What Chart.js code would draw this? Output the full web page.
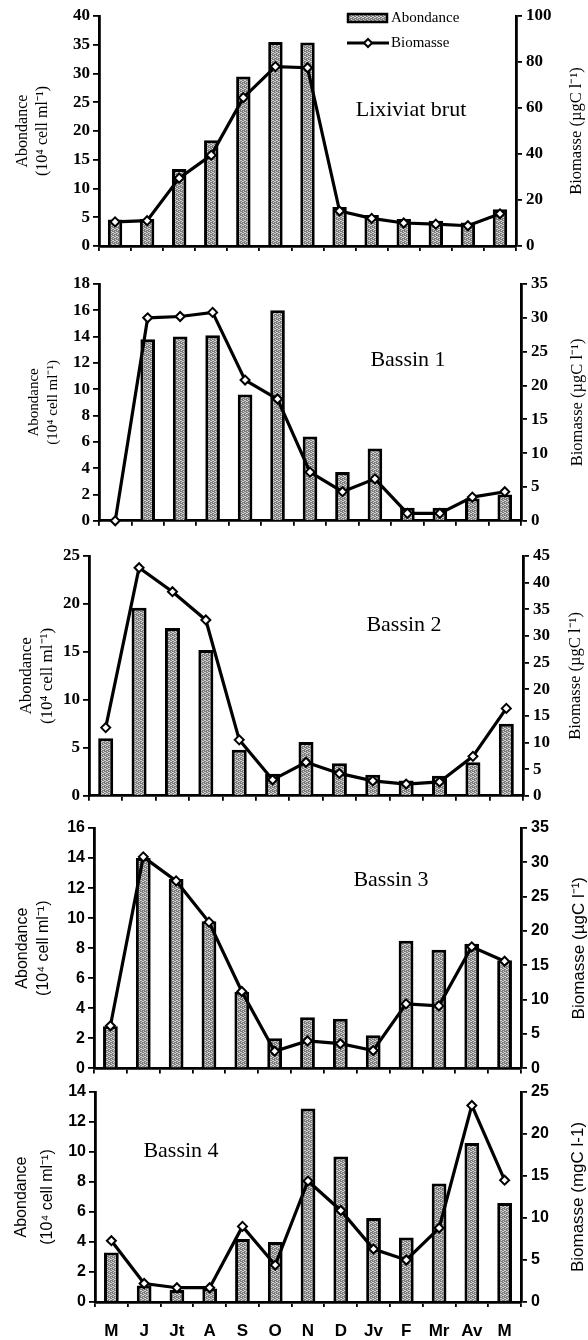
<!DOCTYPE html>
<html>
<head>
<meta charset="utf-8">
<script src="https://cdn.jsdelivr.net/npm/chart.js@4.4.1/dist/chart.umd.min.js"></script>
<style>
  body { margin: 0; background: #fff; width: 588px; height: 1340px; position: relative; overflow: hidden; }
  canvas { position: absolute; left: 0; }
</style>
</head>
<body>
<canvas id="c1"></canvas>
<canvas id="c2"></canvas>
<canvas id="c3"></canvas>
<canvas id="c4"></canvas>
<canvas id="c5"></canvas>
<script>
const months = ['M', 'J', 'Jt', 'A', 'S', 'O', 'N', 'D', 'Jv', 'F', 'Mr', 'Av', 'M'];

// abondance (10^4 cell/ml) and biomasse for each site
const abLixiviat = [4.6, 4.7, 13.4, 18.4, 29.5, 35.5, 35.4, 6.8, 5.4, 4.7, 4.4, 4.1, 6.4];
const bioLixiviat = [10.5, 11, 29.5, 39.5, 64.5, 78, 77.5, 15.2, 12, 10, 9.5, 8.8, 14];
const abBassin1 = [0, 13.8, 14.0, 14.1, 9.6, 16.0, 6.4, 3.7, 5.5, 1.0, 1.0, 1.7, 2.0];
const bioBassin1 = [0, 30, 30.2, 30.8, 20.8, 18, 7.2, 4.3, 6.2, 1.1, 1.1, 3.5, 4.3];
const abBassin2 = [6.0, 19.6, 17.5, 15.2, 4.8, 2.3, 5.6, 3.4, 2.2, 1.6, 2.1, 3.5, 7.5];
const bioBassin2 = [12.8, 42.8, 38.3, 33, 10.5, 3, 6.3, 4.2, 2.8, 2.2, 2.6, 7.4, 16.4];
const abBassin3 = [2.8, 14.0, 12.6, 9.8, 5.1, 2.0, 3.4, 3.3, 2.2, 8.5, 7.9, 8.3, 7.2];
const bioBassin3 = [6.2, 30.8, 27.3, 21.3, 11.2, 2.5, 4.0, 3.6, 2.6, 9.4, 9.1, 17.7, 15.6];
const abBassin4 = [3.3, 1.1, 0.8, 0.9, 4.2, 4.0, 12.9, 9.7, 5.6, 4.3, 7.9, 10.6, 6.6];
const bioBassin4 = [7.3, 2.2, 1.7, 1.7, 9.0, 4.4, 14.4, 10.9, 6.3, 5.0, 8.8, 23.4, 14.5];

const panelNames = ['Lixiviat brut', 'Bassin 1', 'Bassin 2', 'Bassin 3', 'Bassin 4'];
const abMax = [40, 18, 25, 16, 14];
const abStep = [5, 2, 5, 2, 2];
const bioMax = [100, 35, 45, 35, 25];
const bioStep = [20, 5, 5, 5, 5];
const bioTitles = ['Biomasse (µgC l⁻¹)', 'Biomasse (µgC l⁻¹)', 'Biomasse (µgC l⁻¹)', 'Biomasse (µgC l⁻¹)', 'Biomasse (mgC l-1)'];

const abData = [abLixiviat, abBassin1, abBassin2, abBassin3, abBassin4];
const bioData = [bioLixiviat, bioBassin1, bioBassin2, bioBassin3, bioBassin4];

const SERIF = '"Liberation Serif", "Times New Roman", serif';
const SANS = '"Liberation Sans", Arial, sans-serif';

// where each panel sits on the page
const layout = [
  {top: 0,    h: 262, pad: 16, xh: 16, left: 99, right: 516, sans: false, tx: 411, ty: 110, rx: 577, tp: 12, lh: 1.3, ts: 16},
  {top: 268,  h: 267, pad: 16, xh: 12, left: 99, right: 521, sans: false, tx: 408, ty: 92,  rx: 578, tp: 24, lh: 1.3, ts: 15},
  {top: 540,  h: 270, pad: 16, xh: 12, left: 89, right: 523, sans: false, tx: 404, ty: 85,  rx: 576, tp: 16, lh: 1.25, ts: 17},
  {top: 812,  h: 270, pad: 16, xh: 10, left: 94, right: 521, sans: true,  tx: 391, ty: 68,  rx: 579, tp: 12, lh: 1.3, ts: 16},
  {top: 1078, h: 262, pad: 14, xh: 38, left: 95, right: 521, sans: true,  tx: 181, ty: 73,  rx: 578, tp: 9,  lh: 1.6, ts: 16}
];
const CW = 588;

function stipple() {
  const c = document.createElement('canvas');
  c.width = 4; c.height = 4;
  const g = c.getContext('2d');
  g.fillStyle = '#7d7d7d';
  g.fillRect(0, 0, 4, 4);
  g.fillStyle = '#d4d4d4';
  [[0, 0], [2, 1], [1, 2], [3, 3], [3, 1], [1, 0]].forEach(p => g.fillRect(p[0], p[1], 1, 1));
  return g.createPattern(c, 'repeat');
}
const barFill = stipple();

const panelText = {
  id: 'panelText',
  afterDraw(chart, args, o) {
    const {ctx, chartArea} = chart;
    ctx.save();
    ctx.fillStyle = '#000';
    ctx.textAlign = 'center';
    ctx.textBaseline = 'middle';
    ctx.font = '22px ' + SERIF;
    ctx.fillText(o.name, o.tx, o.ty);
    // right axis title, reading upwards
    ctx.font = o.titleFont;
    ctx.translate(o.rx, (chartArea.top + chartArea.bottom) / 2);
    ctx.rotate(-Math.PI / 2);
    ctx.fillText(o.rightTitle, 0, 0);
    ctx.restore();
  }
};

const boxLegend = {
  id: 'boxLegend',
  afterDraw(chart, args, o) {
    if (!o.show) return;
    const ctx = chart.ctx;
    const bar = chart.data.datasets[1], line = chart.data.datasets[0];
    ctx.save();
    ctx.fillStyle = bar.backgroundColor;
    ctx.fillRect(348, 14, 39, 8);
    ctx.lineWidth = 2.5;
    ctx.strokeStyle = '#000';
    ctx.strokeRect(348, 14, 39, 8);
    ctx.beginPath();
    ctx.lineWidth = 3;
    ctx.moveTo(347, 43); ctx.lineTo(389, 43);
    ctx.stroke();
    ctx.beginPath();
    ctx.moveTo(368, 39); ctx.lineTo(372, 43); ctx.lineTo(368, 47); ctx.lineTo(364, 43); ctx.closePath();
    ctx.fillStyle = '#fff'; ctx.fill();
    ctx.lineWidth = 2; ctx.stroke();
    ctx.fillStyle = '#000';
    ctx.font = '15px ' + SERIF;
    ctx.textBaseline = 'middle';
    ctx.fillText(bar.label, 391, 18);
    ctx.fillText(line.label, 391, 43);
    ctx.restore();
  }
};

function makePanel(i) {
  const L = layout[i];
  const cv = document.getElementById('c' + (i + 1));
  cv.width = CW; cv.height = L.h;
  cv.style.top = L.top + 'px';
  const fam = L.sans ? SANS : SERIF;
  const tickFont = {family: fam, size: L.sans ? 16 : 17, weight: 'bold'};
  const last = i === 4;

  new Chart(cv, {
    type: 'bar',
    data: {
      labels: months,
      datasets: [
        {
          type: 'line', label: 'Biomasse', data: bioData[i], yAxisID: 'y1', order: 0,
          borderColor: '#000', borderWidth: 3.2, tension: 0, clip: false,
          pointStyle: 'rectRot', pointRadius: 4.5, pointBackgroundColor: '#fff',
          pointBorderColor: '#000', pointBorderWidth: 2
        },
        {
          type: 'bar', label: 'Abondance', data: abData[i], yAxisID: 'y', order: 1,
          backgroundColor: barFill, borderColor: '#000', borderWidth: 3,
          barPercentage: 0.45, categoryPercentage: 1
        }
      ]
    },
    options: {
      responsive: false,
      maintainAspectRatio: false,
      animation: false,
      layout: {padding: {top: L.pad, left: 0, right: 0, bottom: 0}},
      plugins: {
        legend: {display: false},
        tooltip: {enabled: false},
        panelText: {name: panelNames[i], tx: L.tx, ty: L.ty, rx: L.rx, rightTitle: bioTitles[i],
                    titleFont: (L.sans ? '17px ' : '16.5px ') + fam},
        boxLegend: {show: i === 0}
      },
      scales: {
        x: {
          offset: true,
          grid: {offset: true, drawOnChartArea: false, drawTicks: true, tickLength: 5, color: '#000', lineWidth: 1.8},
          border: {display: true, color: '#000', width: 2.8},
          ticks: {display: last, color: '#000', font: {family: SANS, size: 17, weight: 'bold'}, padding: 14},
          afterFit: s => { s.height = L.xh; }
        },
        y: {
          position: 'left', min: 0, max: abMax[i],
          ticks: {stepSize: abStep[i], color: '#000', font: tickFont, padding: 3},
          grid: {drawOnChartArea: false, drawTicks: true, tickLength: 6, color: '#000', lineWidth: 1.8},
          border: {display: true, color: '#000', width: 2.8},
          title: {display: true, text: ['Abondance', '(10⁴ cell ml⁻¹)'], color: '#000',
                  font: {family: fam, size: L.ts, lineHeight: L.lh}, padding: {top: L.tp, bottom: 0}},
          afterFit: s => { s.width = L.left; }
        },
        y1: {
          position: 'right', min: 0, max: bioMax[i],
          ticks: {stepSize: bioStep[i], color: '#000', font: tickFont, padding: 4},
          grid: {drawOnChartArea: false, drawTicks: true, tickLength: 6, color: '#000', lineWidth: 1.8},
          border: {display: true, color: '#000', width: 2.8},
          afterFit: s => { s.width = CW - L.right; }
        }
      }
    },
    plugins: [panelText, boxLegend]
  });
}

for (let i = 0; i < 5; i++) makePanel(i);
</script>
</body>
</html>
